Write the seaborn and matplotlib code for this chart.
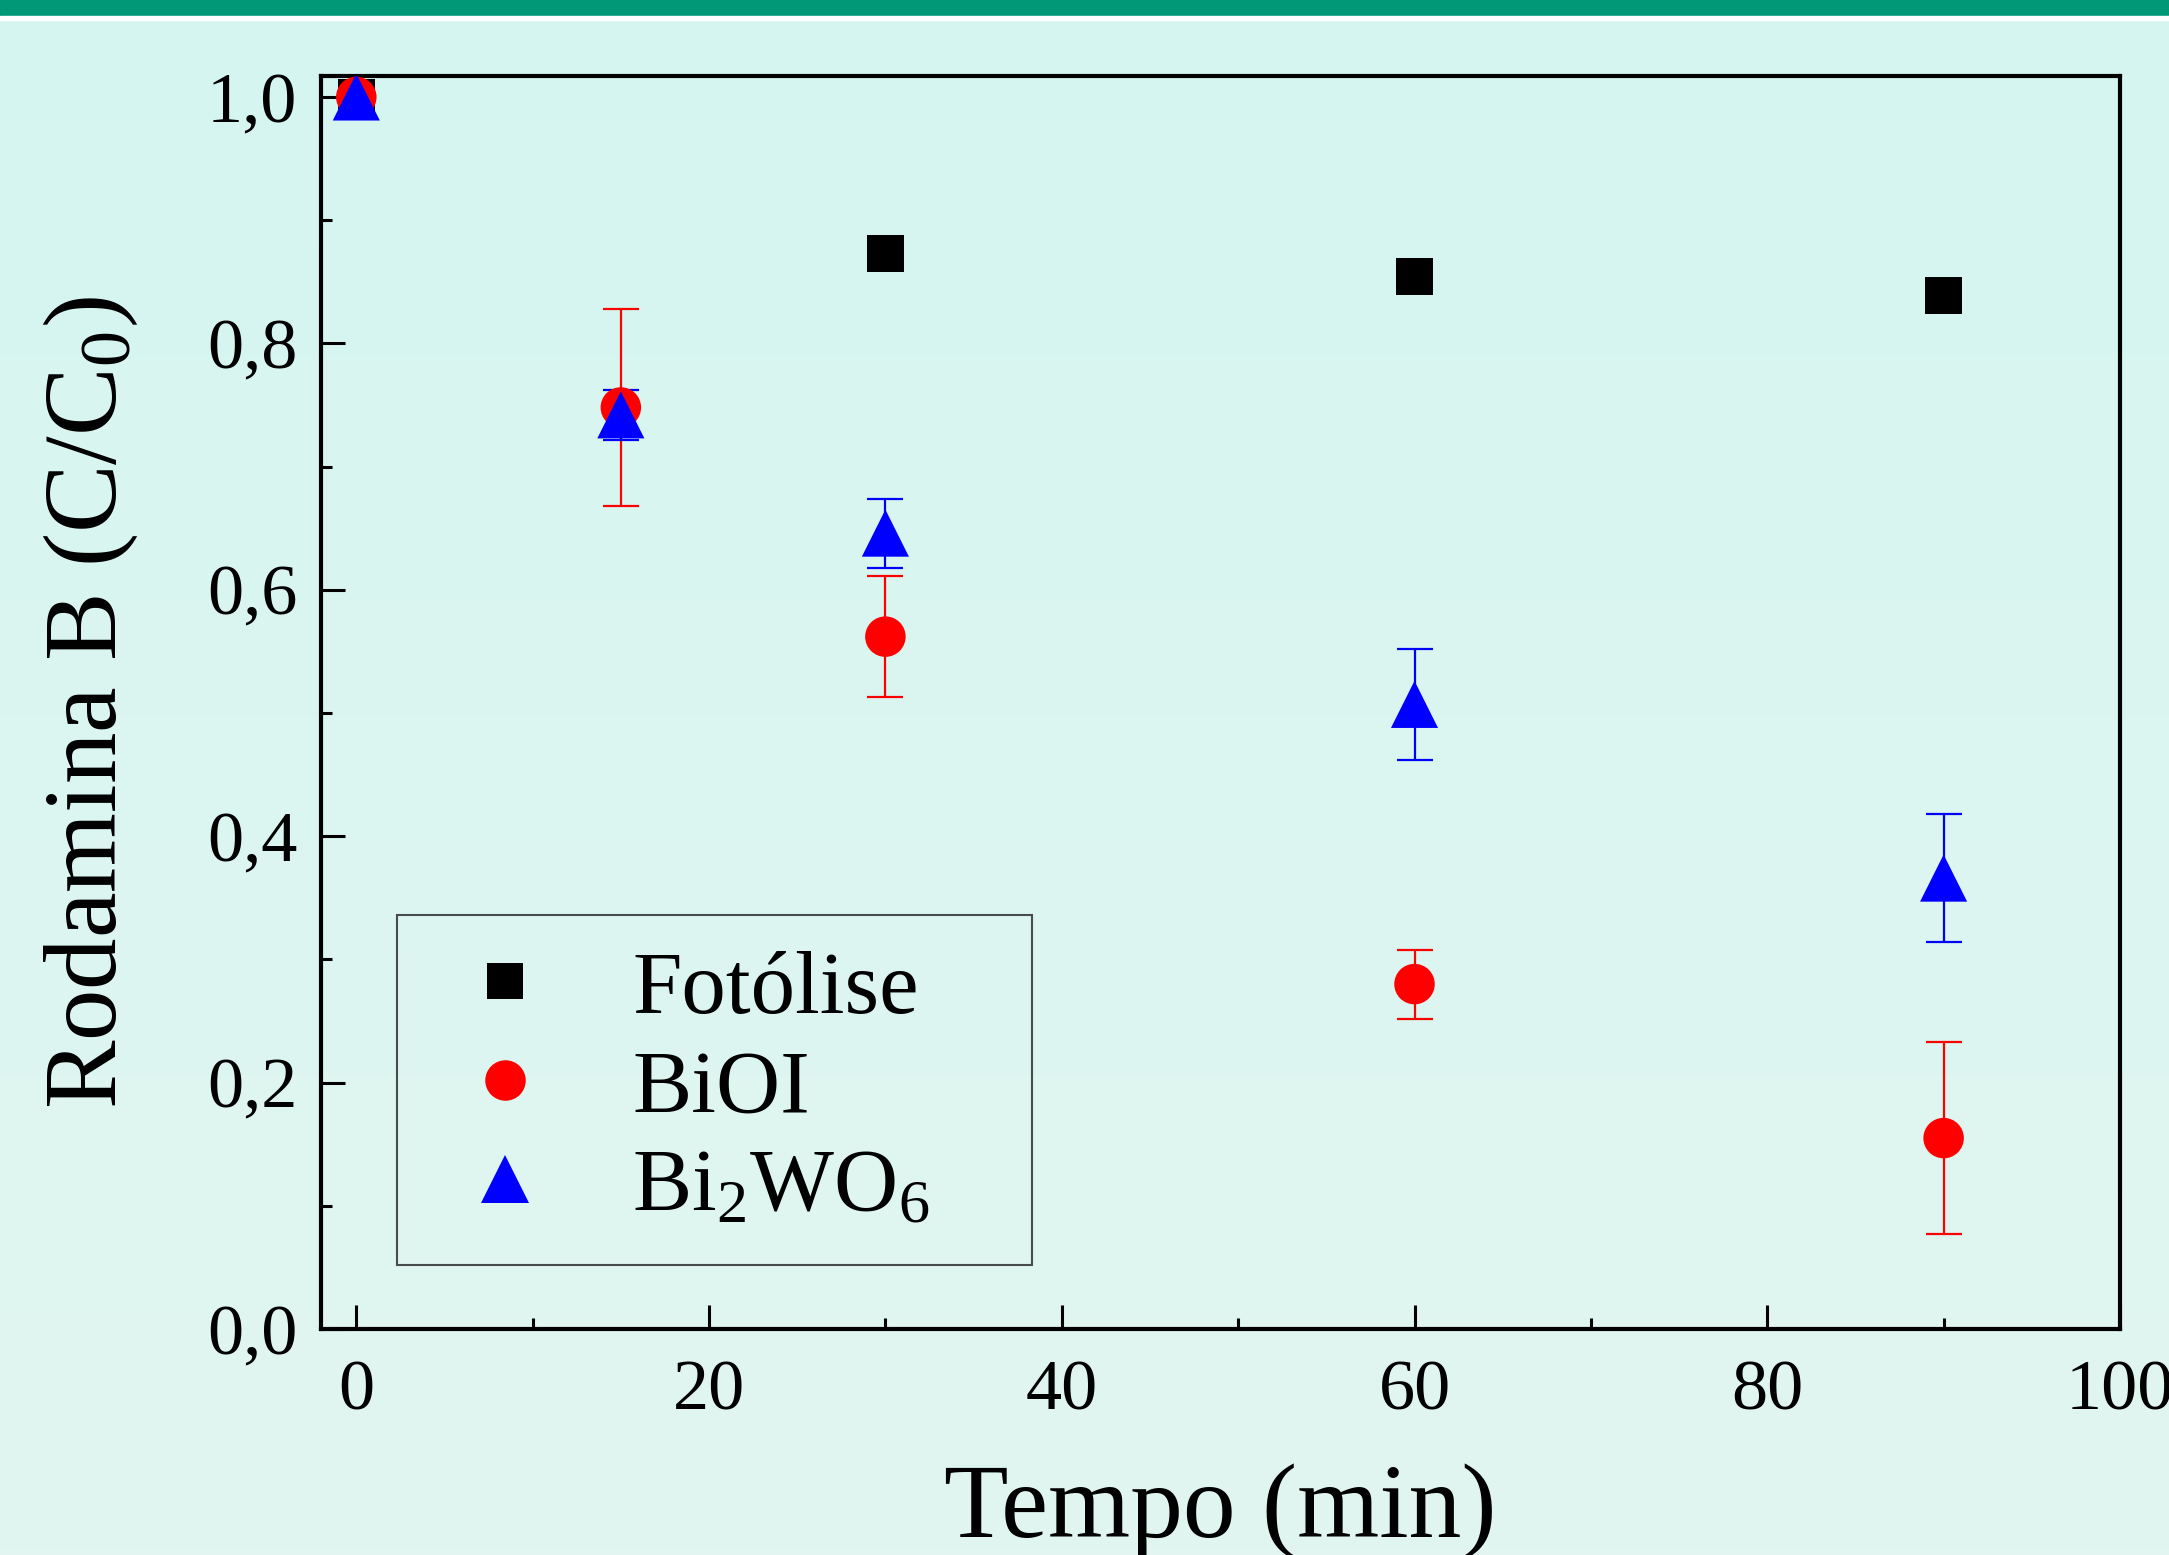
import seaborn as sns
import matplotlib.pyplot as plt
import numpy as np
import pandas as pd
from matplotlib.ticker import MultipleLocator, FuncFormatter
from matplotlib.colors import LinearSegmentedColormap

# Dados (C/C0 vs tempo)
tempo_fotolise = [0, 30, 60, 90]
fotolise = [1.0, 0.873, 0.854, 0.839]

tempo_bioi = [0, 15, 30, 60, 90]
bioi = [1.0, 0.748, 0.562, 0.280, 0.155]
bioi_err = [0.0, 0.080, 0.049, 0.028, 0.078]

tempo_bwo = [0, 15, 30, 60, 90]
bwo = [1.0, 0.742, 0.646, 0.507, 0.366]
bwo_err = [0.0, 0.020, 0.028, 0.045, 0.052]

series = ['Fotólise', 'BiOI', 'Bi$_2$WO$_6$']
cores = {'Fotólise': 'black', 'BiOI': '#ff0000', 'Bi$_2$WO$_6$': '#0000ff'}
marcadores = {'Fotólise': 's', 'BiOI': 'o', 'Bi$_2$WO$_6$': '^'}
tamanhos = {'Fotólise': 700, 'BiOI': 850, 'Bi$_2$WO$_6$': 1150}

df = pd.concat([
    pd.DataFrame({'tempo': tempo_fotolise, 'cc0': fotolise, 'err': 0.0, 'serie': series[0]}),
    pd.DataFrame({'tempo': tempo_bioi, 'cc0': bioi, 'err': bioi_err, 'serie': series[1]}),
    pd.DataFrame({'tempo': tempo_bwo, 'cc0': bwo, 'err': bwo_err, 'serie': series[2]}),
], ignore_index=True)

sns.set_style('ticks')
plt.rcParams['font.family'] = ['Liberation Serif', 'DejaVu Serif']
plt.rcParams['mathtext.fontset'] = 'custom'
plt.rcParams['mathtext.rm'] = 'Liberation Serif'
plt.rcParams['mathtext.it'] = 'Liberation Serif:italic'
plt.rcParams['text.color'] = 'black'
plt.rcParams['axes.labelcolor'] = 'black'
plt.rcParams['xtick.color'] = 'black'
plt.rcParams['ytick.color'] = 'black'

fig = plt.figure(figsize=(21.69, 15.55), dpi=100)

# fundo em degrade + faixa verde no topo
bg = fig.add_axes([0, 0, 1, 1], zorder=-10)
cmap = LinearSegmentedColormap.from_list('fundo', ['#d5f6f0', '#e2f5f0'])
grad = np.linspace(0, 1, 256).reshape(-1, 1)
bg.imshow(grad, aspect='auto', cmap=cmap, extent=[0, 1, 0, 1], origin='upper')
bg.axhspan(1 - 16 / 1555, 1, color='#019878')
bg.axhspan(1 - 20 / 1555, 1 - 16 / 1555, color='white')
bg.set_xlim(0, 1)
bg.set_ylim(0, 1)
bg.axis('off')

ax = fig.add_axes([0.148, 0.1453, 0.8294, 0.8058])
ax.set_facecolor('none')

# barras de erro
for nome, t, y, e in [(series[1], tempo_bioi, bioi, bioi_err), (series[2], tempo_bwo, bwo, bwo_err)]:
    ax.errorbar(t, y, yerr=e, fmt='none', ecolor=cores[nome], elinewidth=1.6,
                capsize=13, capthick=1.6, zorder=2)

sns.scatterplot(data=df, x='tempo', y='cc0', hue='serie', style='serie', size='serie',
                palette=cores, markers=marcadores, sizes=tamanhos, hue_order=series,
                style_order=series, size_order=series, linewidth=0, edgecolor='none',
                ax=ax, zorder=3)

ax.set_xlim(-2, 100)
ax.set_ylim(0, 1.017)
ax.xaxis.set_major_locator(MultipleLocator(20))
ax.xaxis.set_minor_locator(MultipleLocator(10))
ax.yaxis.set_major_locator(MultipleLocator(0.2))
ax.yaxis.set_minor_locator(MultipleLocator(0.1))
ax.yaxis.set_major_formatter(FuncFormatter(lambda v, p: f'{v:.1f}'.replace('.', ',')))
ax.xaxis.set_major_formatter(FuncFormatter(lambda v, p: f'{v:.0f}'))
ax.tick_params(which='both', direction='in', top=False, right=False, width=2.2,
               labelsize=52, colors='black')
ax.tick_params(which='major', length=17)
ax.tick_params(which='minor', length=8)
ax.tick_params(axis='x', which='major', pad=22)
ax.tick_params(axis='y', which='major', pad=17)
for s in ax.spines.values():
    s.set_linewidth(3)
    s.set_color('black')

ax.set_xlabel('Tempo (min)', fontsize=76, labelpad=28)
ax.set_ylabel('Rodamina B (C/C$_0$)', fontsize=74, labelpad=48)

handles, labels = ax.get_legend_handles_labels()
leg = ax.legend(handles, labels, loc='lower left', bbox_to_anchor=(0.042, 0.051, 0.353, 0.283),
                mode='expand', fontsize=64, frameon=True, fancybox=False, borderpad=0.4,
                handlelength=1.65, handletextpad=0.6, labelspacing=0.2, borderaxespad=0,
                markerscale=1.0)
leg.get_frame().set_edgecolor('#222222')
leg.get_frame().set_linewidth(1.5)
leg.get_frame().set_facecolor('none')

fig.savefig('out.png', dpi=100)
